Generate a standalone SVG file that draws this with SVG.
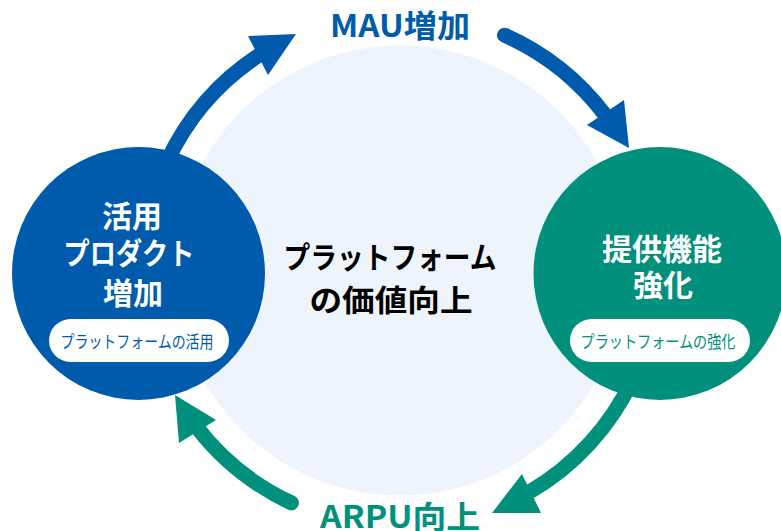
<svg xmlns="http://www.w3.org/2000/svg" width="781" height="531" viewBox="0 0 781 531">
<style>
text{font-family:"Noto Sans CJK JP","Noto Sans",sans-serif;text-anchor:middle}
.t{font-weight:700;font-size:30px;fill:#fff}
.c{font-weight:700;font-size:30px;fill:#000}
.p{font-size:17px}
.lb{font-weight:700;font-size:31px}
.sb{fill:none;stroke:#005BAC;stroke-width:15}
.sg{fill:none;stroke:#00907C;stroke-width:15}
</style>
<rect width="781" height="531" fill="#fff"/>
<g id="center">
<circle cx="400" cy="270.5" r="225" fill="#EEF4FB"/>
<text class="c" x="390" y="268" textLength="213" lengthAdjust="spacingAndGlyphs">プラットフォーム</text>
<text class="c" x="391" y="311" textLength="163" lengthAdjust="spacingAndGlyphs">の価値向上</text>
</g>
<g id="connectors">
<path class="sb" d="M167.1,161.4 A257,257 0 0 1 260,54.5"/>
<polygon fill="#005BAC" points="248,36 296,34 268,75"/>
<path class="sb" stroke-linecap="round" d="M504.5,35.2 A257,257 0 0 1 605.3,115.3"/>
<polygon fill="#005BAC" points="624,100 629,148 587,125"/>
<path class="sg" d="M632.9,378.6 A257,257 0 0 1 528.5,492.6"/>
<polygon fill="#00907C" points="522,474 541,513 492,513"/>
<path class="sg" stroke-linecap="round" d="M291.4,502.9 A257,257 0 0 1 197.5,428.2"/>
<polygon fill="#00907C" points="175,395 216,420 179,443"/>
</g>
<g id="mau"><text class="lb" x="400" y="37" fill="#005BAC" textLength="140" lengthAdjust="spacingAndGlyphs">MAU増加</text></g>
<g id="arpu"><text class="lb" x="400" y="528" fill="#00907C" textLength="160" lengthAdjust="spacingAndGlyphs">ARPU向上</text></g>
<g id="left">
<circle cx="138.5" cy="273.5" r="126.5" fill="#005BAC"/>
<text class="t" x="132" y="227">活用</text>
<text class="t" x="129" y="264" textLength="131" lengthAdjust="spacingAndGlyphs">プロダクト</text>
<text class="t" x="133" y="304">増加</text>
<rect x="49" y="319" width="180" height="43" rx="21.5" fill="#fff"/>
<text class="p" x="137" y="347.5" fill="#005BAC" textLength="153" lengthAdjust="spacingAndGlyphs">プラットフォームの活用</text>
</g>
<g id="right">
<circle cx="660" cy="273.5" r="126.5" fill="#00907C"/>
<text class="t" x="662" y="260">提供機能</text>
<text class="t" x="663" y="296">強化</text>
<rect x="570" y="319" width="180" height="43" rx="21.5" fill="#fff"/>
<text class="p" x="658" y="347.5" fill="#00907C" textLength="155" lengthAdjust="spacingAndGlyphs">プラットフォームの強化</text>
</g>
</svg>
